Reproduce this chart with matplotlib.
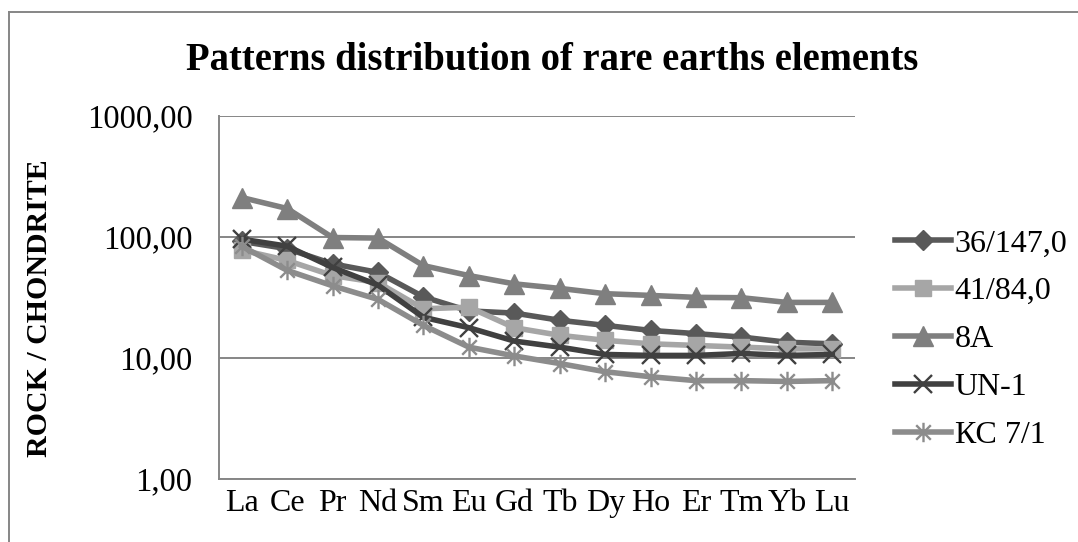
import matplotlib
matplotlib.use("Agg")
import matplotlib.pyplot as plt
from matplotlib.path import Path
from matplotlib.lines import Line2D
import numpy as np

plt.rcParams['font.family'] = ['Liberation Serif', 'DejaVu Serif']

elements = ["La", "Ce", "Pr", "Nd", "Sm", "Eu", "Gd", "Tb", "Dy", "Ho", "Er", "Tm", "Yb", "Lu"]
s_36_147 = [92, 80, 60, 51, 32, 24.5, 23.5, 20.5, 18.6, 16.9, 15.9, 14.9, 13.5, 13.1]
s_41_84 = [78, 64, 48, 42, 25.5, 26.3, 17.8, 15.4, 14.0, 13.1, 12.7, 12.3, 11.9, 11.9]
s_8A = [212, 172, 99, 98, 58, 48, 41, 37.6, 34, 32.9, 31.7, 31.5, 28.8, 28.8]
s_UN1 = [96, 84, 56, 40, 21.7, 17.8, 13.8, 12.3, 10.7, 10.5, 10.5, 10.9, 10.5, 10.7]
s_KC71 = [84, 53, 39.5, 30.5, 18.6, 12.3, 10.4, 9.0, 7.7, 7.0, 6.5, 6.5, 6.4, 6.5]
labels = ["36/147,0", "41/84,0", "8A", "UN-1", "КС 7/1"]
ytick_vals = [1, 10, 100, 1000]
ytick_labels = ["1,00", "10,00", "100,00", "1000,00"]

W, H = 1078, 542
fig = plt.figure(figsize=(W / 100, H / 100), dpi=100)
ax = fig.add_axes([219 / W, 1 - 479 / H, (855 - 219) / W, (479 - 116) / H])

star = Path([(0, -1), (0, 1), (-0.75, -0.75), (0.75, 0.75), (-0.75, 0.75), (0.75, -0.75)],
            [Path.MOVETO, Path.LINETO, Path.MOVETO, Path.LINETO, Path.MOVETO, Path.LINETO])

x = np.arange(len(elements))
lw = 4.0
ax.plot(x, s_36_147, color="#595959", lw=lw, marker="D", ms=10, mfc="#595959", mec="#595959", label=labels[0], zorder=3)
ax.plot(x, s_41_84, color="#a6a6a6", lw=lw, marker="s", ms=12, mfc="#a6a6a6", mec="#a6a6a6", label=labels[1], zorder=3)
ax.plot(x, s_8A, color="#7f7f7f", lw=lw, marker="^", ms=14, mfc="#7f7f7f", mec="#7f7f7f", label=labels[2], zorder=3)
ax.plot(x, s_UN1, color="#404040", lw=lw, marker="x", ms=13, mew=1.7, mec="#404040", label=labels[3], zorder=3)
ax.plot(x, s_KC71, color="#8c8c8c", lw=lw, marker=star, ms=14, mew=1.7, mec="#8c8c8c", mfc="none", label=labels[4], zorder=3)

ax.set_yscale("log")
ax.set_ylim(1, 1000)
ax.set_xlim(-0.5, len(elements) - 0.5)
ax.set_yticks(ytick_vals)
ax.set_yticklabels(ytick_labels)
ax.yaxis.set_minor_locator(matplotlib.ticker.NullLocator())
ax.set_xticks(x)
ax.set_xticklabels(elements)
ax.tick_params(axis="y", length=0, pad=19, labelsize=23.5)
ax.tick_params(axis="x", length=0, pad=7, labelsize=23)
ax.grid(axis="y", color="#868686", lw=1.4, zorder=0)
for side in ["top", "right"]:
    ax.spines[side].set_visible(False)
for side in ["left", "bottom"]:
    ax.spines[side].set_color("#868686")
    ax.spines[side].set_linewidth(1.4)

fig.text(552 / W, 1 - 61 / H, "Patterns distribution of rare earths elements",
         ha="center", va="center", fontsize=27.8, fontweight="bold")
fig.text(40 / W, 1 - 308 / H, "ROCK / CHONDRITE", rotation=90, ha="center", va="center",
         fontsize=21.5, fontweight="bold")

leg = ax.legend(loc="upper left", bbox_to_anchor=(895 / W, 1 - 229 / H), bbox_transform=fig.transFigure,
                frameon=False, fontsize=23, handlelength=1.75, handletextpad=0.12,
                labelspacing=0.58, borderaxespad=0, borderpad=0)

# outer chart border
fig.add_artist(Line2D([9 / W, 9 / W], [0, 1 - 12 / H], color="#868686", lw=1.4, transform=fig.transFigure))
fig.add_artist(Line2D([9 / W, 1], [1 - 12 / H, 1 - 12 / H], color="#868686", lw=1.4, transform=fig.transFigure))

fig.savefig("out.png", dpi=100)
